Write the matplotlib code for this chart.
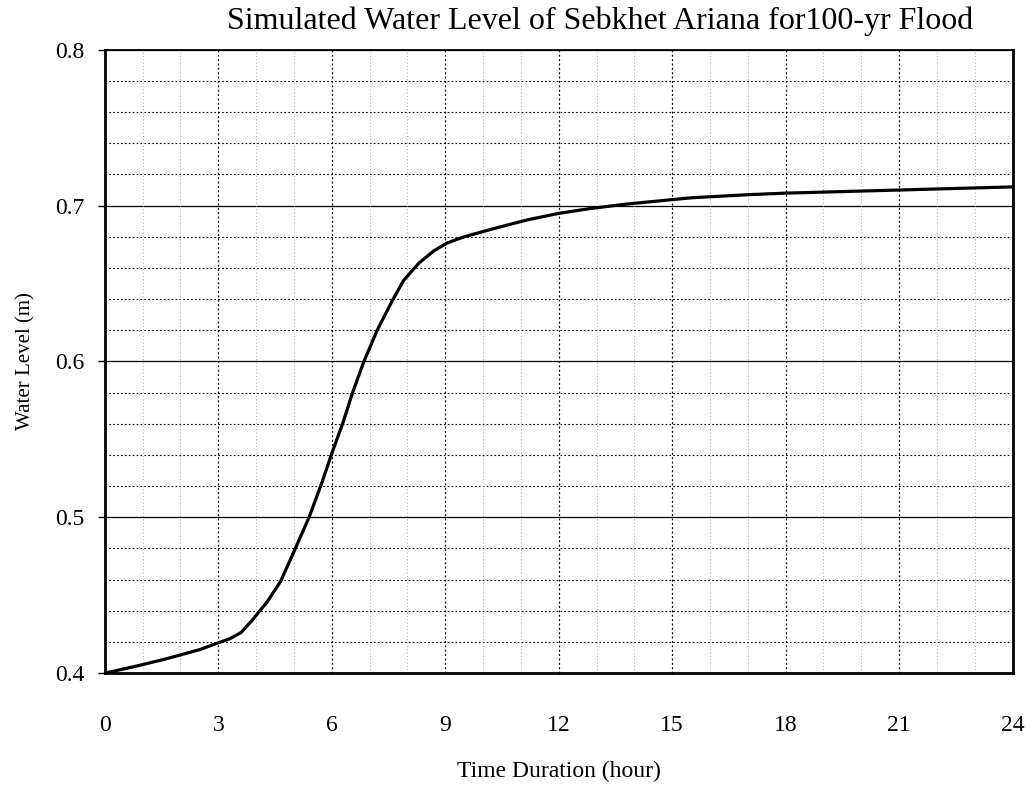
import matplotlib.pyplot as plt
import numpy as np

# simulated water level (m) vs time (hour)
hours = [0, 0.75, 1.6, 2.5, 2.95, 3.3, 3.6, 3.9, 4.3, 4.65, 5.0, 5.4, 5.75, 6.0,
         6.3, 6.55, 6.85, 7.2, 7.6, 7.9, 8.3, 8.7, 9.05, 9.5, 10.4, 11.2, 12.0,
         12.8, 13.8, 15.5, 17.0, 18.0, 19.5, 21.0, 22.5, 24.0]
level = [0.400, 0.404, 0.409, 0.415, 0.419, 0.422, 0.426, 0.434, 0.446, 0.459,
         0.478, 0.500, 0.523, 0.541, 0.561, 0.580, 0.600, 0.620, 0.639, 0.652,
         0.663, 0.671, 0.676, 0.680, 0.686, 0.691, 0.695, 0.698, 0.701, 0.705,
         0.707, 0.708, 0.709, 0.710, 0.711, 0.712]

x_ticks = np.arange(0, 25, 3)
y_ticks = [0.4, 0.5, 0.6, 0.7, 0.8]

plt.rcParams['font.family'] = ['Liberation Serif', 'DejaVu Serif']

fig = plt.figure(figsize=(10.28, 7.9), dpi=100)
ax = fig.add_axes([0.102, 0.148, 0.883, 0.789])

# grid: solid at every 0.1 m, dotted at 0.02 m, dotted vertical lines
for y in np.arange(0.42, 0.8, 0.02):
    if abs(y * 10 - round(y * 10)) < 1e-6:
        ax.axhline(y, color='black', lw=0.9, zorder=1)
    else:
        ax.axhline(y, color='black', lw=0.8, ls=(0, (1.5, 2)), zorder=1)
for x in range(1, 24):
    if x % 3 == 0:
        ax.axvline(x, color='black', lw=0.9, ls=(0, (1.5, 2)), zorder=1)
    else:
        ax.axvline(x, color='0.55', lw=0.6, ls=(0, (1, 3)), zorder=1)

ax.plot(hours, level, color='black', lw=2.3, solid_joinstyle='round', zorder=3)

ax.set_xlim(0, 24)
ax.set_ylim(0.4, 0.8)
ax.set_xticks(x_ticks)
ax.set_yticks(y_ticks)
ax.set_yticklabels(['0.4', '0.5', '0.6', '0.7', '0.8'])
ax.tick_params(axis='x', length=0, pad=30, labelsize=17)
ax.tick_params(axis='y', length=5, width=1, pad=10, labelsize=17)

for side in ['left', 'bottom', 'right']:
    ax.spines[side].set_linewidth(2.0)
ax.spines['top'].set_linewidth(1.3)

fig.text(0.584, 0.973, 'Simulated Water Level of Sebkhet Ariana for100-yr Flood',
         fontsize=23, ha='center', va='center')
ax.set_xlabel('Time Duration (hour)', fontsize=17, labelpad=18)
ax.set_ylabel('Water Level (m)', fontsize=15, labelpad=14)

fig.savefig('out.png', dpi=100)
